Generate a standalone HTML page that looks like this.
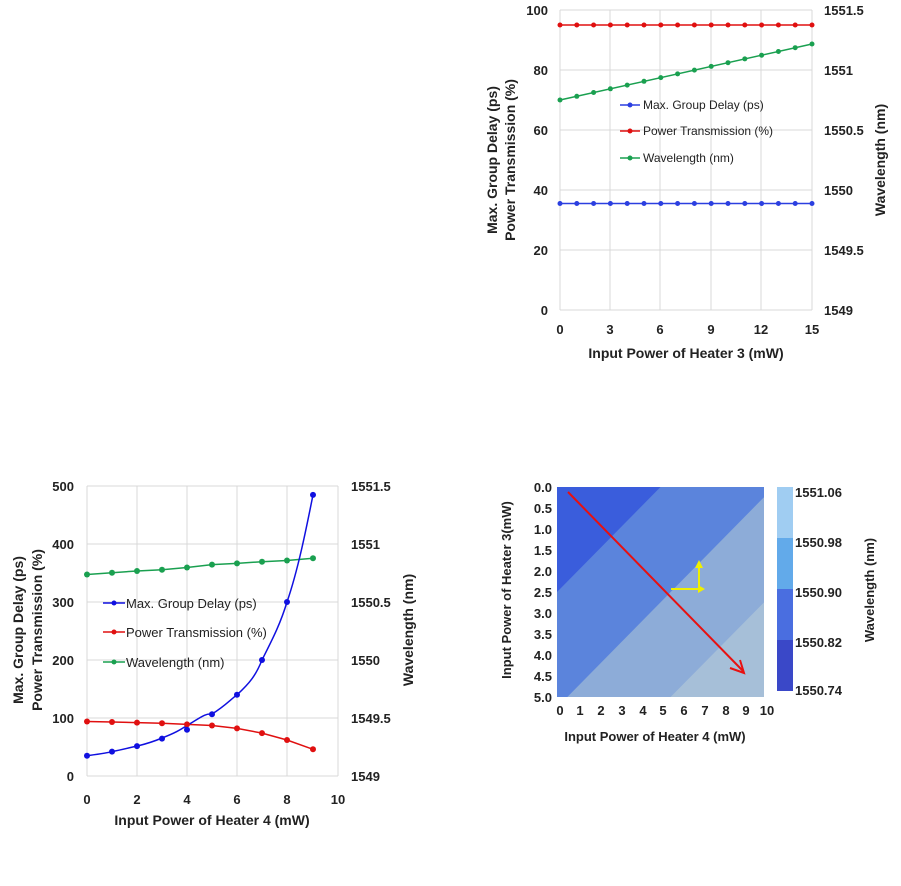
<!DOCTYPE html>
<html><head><meta charset="utf-8"><style>
html,body{margin:0;padding:0;background:#fff;overflow:hidden;width:901px;height:886px;}
svg{display:block;}
svg text{font-family:"Liberation Sans",Arial,sans-serif;font-weight:bold;fill:#222;}
</style></head><body>
<svg width="901" height="886" viewBox="0 0 901 886" xmlns="http://www.w3.org/2000/svg">
<!-- ===== Top right chart ===== -->
<g>
<g stroke="#d9d9d9" stroke-width="1">
<line x1="560" y1="10" x2="560" y2="310"/><line x1="610" y1="10" x2="610" y2="310"/><line x1="660" y1="10" x2="660" y2="310"/><line x1="711" y1="10" x2="711" y2="310"/><line x1="761" y1="10" x2="761" y2="310"/><line x1="812" y1="10" x2="812" y2="310"/>
<line x1="560" y1="10" x2="812" y2="10"/><line x1="560" y1="70" x2="812" y2="70"/><line x1="560" y1="130" x2="812" y2="130"/><line x1="560" y1="190" x2="812" y2="190"/><line x1="560" y1="250" x2="812" y2="250"/><line x1="560" y1="310" x2="812" y2="310"/>
</g>
<g font-size="13" text-anchor="end">
<text x="548" y="15">100</text><text x="548" y="75">80</text><text x="548" y="135">60</text><text x="548" y="195">40</text><text x="548" y="255">20</text><text x="548" y="315">0</text>
</g>
<g font-size="13" text-anchor="start">
<text x="824" y="15">1551.5</text><text x="824" y="75">1551</text><text x="824" y="135">1550.5</text><text x="824" y="195">1550</text><text x="824" y="255">1549.5</text><text x="824" y="315">1549</text>
</g>
<g font-size="13" text-anchor="middle">
<text x="560" y="334">0</text><text x="610" y="334">3</text><text x="660" y="334">6</text><text x="711" y="334">9</text><text x="761" y="334">12</text><text x="812" y="334">15</text>
</g>
<text x="686" y="358" font-size="14" text-anchor="middle">Input Power of Heater 3 (mW)</text>
<text transform="translate(497,160) rotate(-90)" font-size="14" text-anchor="middle">Max. Group Delay (ps)</text>
<text transform="translate(515,160) rotate(-90)" font-size="14" text-anchor="middle">Power Transmission (%)</text>
<text transform="translate(885,160) rotate(-90)" font-size="14" text-anchor="middle">Wavelength (nm)</text>
<line x1="560" y1="203.5" x2="812" y2="203.5" stroke="#2b3fe0" stroke-width="1.5"/>
<line x1="560" y1="25" x2="812" y2="25" stroke="#e01010" stroke-width="1.5"/>
<line x1="560" y1="100" x2="812" y2="44" stroke="#1aa050" stroke-width="1.5"/>
<g fill="#2b3fe0">
<circle cx="560" cy="203.5" r="2.5"/><circle cx="576.8" cy="203.5" r="2.5"/><circle cx="593.6" cy="203.5" r="2.5"/><circle cx="610.4" cy="203.5" r="2.5"/><circle cx="627.2" cy="203.5" r="2.5"/><circle cx="644" cy="203.5" r="2.5"/><circle cx="660.8" cy="203.5" r="2.5"/><circle cx="677.6" cy="203.5" r="2.5"/><circle cx="694.4" cy="203.5" r="2.5"/><circle cx="711.2" cy="203.5" r="2.5"/><circle cx="728" cy="203.5" r="2.5"/><circle cx="744.8" cy="203.5" r="2.5"/><circle cx="761.6" cy="203.5" r="2.5"/><circle cx="778.4" cy="203.5" r="2.5"/><circle cx="795.2" cy="203.5" r="2.5"/><circle cx="812" cy="203.5" r="2.5"/>
</g>
<g fill="#e01010">
<circle cx="560" cy="25" r="2.5"/><circle cx="576.8" cy="25" r="2.5"/><circle cx="593.6" cy="25" r="2.5"/><circle cx="610.4" cy="25" r="2.5"/><circle cx="627.2" cy="25" r="2.5"/><circle cx="644" cy="25" r="2.5"/><circle cx="660.8" cy="25" r="2.5"/><circle cx="677.6" cy="25" r="2.5"/><circle cx="694.4" cy="25" r="2.5"/><circle cx="711.2" cy="25" r="2.5"/><circle cx="728" cy="25" r="2.5"/><circle cx="744.8" cy="25" r="2.5"/><circle cx="761.6" cy="25" r="2.5"/><circle cx="778.4" cy="25" r="2.5"/><circle cx="795.2" cy="25" r="2.5"/><circle cx="812" cy="25" r="2.5"/>
</g>
<g fill="#1aa050">
<circle cx="560" cy="100" r="2.5"/><circle cx="576.8" cy="96.3" r="2.5"/><circle cx="593.6" cy="92.5" r="2.5"/><circle cx="610.4" cy="88.8" r="2.5"/><circle cx="627.2" cy="85.1" r="2.5"/><circle cx="644" cy="81.3" r="2.5"/><circle cx="660.8" cy="77.6" r="2.5"/><circle cx="677.6" cy="73.9" r="2.5"/><circle cx="694.4" cy="70.1" r="2.5"/><circle cx="711.2" cy="66.4" r="2.5"/><circle cx="728" cy="62.7" r="2.5"/><circle cx="744.8" cy="58.9" r="2.5"/><circle cx="761.6" cy="55.2" r="2.5"/><circle cx="778.4" cy="51.5" r="2.5"/><circle cx="795.2" cy="47.7" r="2.5"/><circle cx="812" cy="44" r="2.5"/>
</g>
<g font-size="12">
<line x1="620" y1="105" x2="640" y2="105" stroke="#2b3fe0" stroke-width="1.5"/><circle cx="630" cy="105" r="2.5" fill="#2b3fe0"/><text x="643" y="109" style="font-weight:normal">Max. Group Delay (ps)</text>
<line x1="620" y1="131" x2="640" y2="131" stroke="#e01010" stroke-width="1.5"/><circle cx="630" cy="131" r="2.5" fill="#e01010"/><text x="643" y="135" style="font-weight:normal">Power Transmission (%)</text>
<line x1="620" y1="158" x2="640" y2="158" stroke="#1aa050" stroke-width="1.5"/><circle cx="630" cy="158" r="2.5" fill="#1aa050"/><text x="643" y="162" style="font-weight:normal">Wavelength (nm)</text>
</g>
</g>
<!-- ===== Bottom left chart ===== -->
<g>
<g stroke="#d9d9d9" stroke-width="1">
<line x1="87" y1="486" x2="87" y2="776"/><line x1="137" y1="486" x2="137" y2="776"/><line x1="187" y1="486" x2="187" y2="776"/><line x1="237" y1="486" x2="237" y2="776"/><line x1="287" y1="486" x2="287" y2="776"/><line x1="338" y1="486" x2="338" y2="776"/>
<line x1="87" y1="486" x2="338" y2="486"/><line x1="87" y1="544" x2="338" y2="544"/><line x1="87" y1="602" x2="338" y2="602"/><line x1="87" y1="660" x2="338" y2="660"/><line x1="87" y1="718" x2="338" y2="718"/><line x1="87" y1="776" x2="338" y2="776"/>
</g>
<g font-size="13" text-anchor="end">
<text x="74" y="491">500</text><text x="74" y="549">400</text><text x="74" y="607">300</text><text x="74" y="665">200</text><text x="74" y="723">100</text><text x="74" y="781">0</text>
</g>
<g font-size="13" text-anchor="start">
<text x="351" y="491">1551.5</text><text x="351" y="549">1551</text><text x="351" y="607">1550.5</text><text x="351" y="665">1550</text><text x="351" y="723">1549.5</text><text x="351" y="781">1549</text>
</g>
<g font-size="13" text-anchor="middle">
<text x="87" y="804">0</text><text x="137" y="804">2</text><text x="187" y="804">4</text><text x="237" y="804">6</text><text x="287" y="804">8</text><text x="338" y="804">10</text>
</g>
<text x="212" y="825" font-size="14" text-anchor="middle">Input Power of Heater 4 (mW)</text>
<text transform="translate(23,630) rotate(-90)" font-size="14" text-anchor="middle">Max. Group Delay (ps)</text>
<text transform="translate(42,630) rotate(-90)" font-size="14" text-anchor="middle">Power Transmission (%)</text>
<text transform="translate(413,630) rotate(-90)" font-size="14" text-anchor="middle">Wavelength (nm)</text>
<polyline fill="none" stroke="#1aa050" stroke-width="1.5" points="87,574.5 112,572.7 137,571 162,569.8 187,567.5 212,564.6 237,563.4 262,561.7 287,560.5 313,558.2"/>
<polyline fill="none" stroke="#e01010" stroke-width="1.5" points="87,721.5 112,722 137,722.6 162,723.2 187,724.4 212,725.5 237,728.4 262,733.1 287,740 313,749.3"/>
<path fill="none" stroke="#1010e0" stroke-width="1.5" d="M87,755.7 C100,754 108,753 112,751.6 C125,749 132,747 137,746.1 C150,743 155,741 162,738 C175,733 180,730 187,725.5 C200,718 205,713 212,714.2 L212,714 C225,706 230,700 237,694.8 C250,683 256,675 262,660 C272,640 280,625 287,602 C298,570 306,530 313,494.9"/>
<g fill="#1aa050"><circle cx="87" cy="574.5" r="3"/><circle cx="112" cy="572.7" r="3"/><circle cx="137" cy="571" r="3"/><circle cx="162" cy="569.8" r="3"/><circle cx="187" cy="567.5" r="3"/><circle cx="212" cy="564.6" r="3"/><circle cx="237" cy="563.4" r="3"/><circle cx="262" cy="561.7" r="3"/><circle cx="287" cy="560.5" r="3"/><circle cx="313" cy="558.2" r="3"/></g>
<g fill="#e01010"><circle cx="87" cy="721.5" r="3"/><circle cx="112" cy="722" r="3"/><circle cx="137" cy="722.6" r="3"/><circle cx="162" cy="723.2" r="3"/><circle cx="187" cy="724.4" r="3"/><circle cx="212" cy="725.5" r="3"/><circle cx="237" cy="728.4" r="3"/><circle cx="262" cy="733.1" r="3"/><circle cx="287" cy="740" r="3"/><circle cx="313" cy="749.3" r="3"/></g>
<g fill="#1010e0"><circle cx="87" cy="755.7" r="3"/><circle cx="112" cy="751.6" r="3"/><circle cx="137" cy="746.1" r="3"/><circle cx="162" cy="738.6" r="3"/><circle cx="187" cy="729.8" r="3"/><circle cx="212" cy="714.2" r="3"/><circle cx="237" cy="694.8" r="3"/><circle cx="262" cy="660" r="3"/><circle cx="287" cy="602" r="3"/><circle cx="313" cy="494.9" r="3"/></g>
<g font-size="13">
<line x1="103" y1="603" x2="125" y2="603" stroke="#1010e0" stroke-width="1.5"/><circle cx="114" cy="603" r="2.5" fill="#1010e0"/><text x="126" y="608" style="font-weight:normal">Max. Group Delay (ps)</text>
<line x1="103" y1="632" x2="125" y2="632" stroke="#e01010" stroke-width="1.5"/><circle cx="114" cy="632" r="2.5" fill="#e01010"/><text x="126" y="637" style="font-weight:normal">Power Transmission (%)</text>
<line x1="103" y1="662" x2="125" y2="662" stroke="#1aa050" stroke-width="1.5"/><circle cx="114" cy="662" r="2.5" fill="#1aa050"/><text x="126" y="667" style="font-weight:normal">Wavelength (nm)</text>
</g>
</g>
<!-- ===== Heatmap ===== -->
<g>
<defs><clipPath id="hm"><rect x="557" y="487" width="207" height="210"/></clipPath></defs>
<g clip-path="url(#hm)">
<rect x="557" y="487" width="207" height="210" fill="#8dacd8"/>
<polygon fill="#a6bfd8" points="878,487 557,812 1000,1000 1000,487"/>
<polygon fill="#5b84dc" points="557,487 774,487 557,707.5"/>
<polygon fill="#3a5ddc" points="557,487 660.5,487 557,592"/>
</g>
<rect x="777" y="487" width="16" height="51" fill="#a0cdf2"/>
<rect x="777" y="538" width="16" height="51" fill="#62aaea"/>
<rect x="777" y="589" width="16" height="51" fill="#4a6ee0"/>
<rect x="777" y="640" width="16" height="51" fill="#3a48c8"/>
<g font-size="13"><text x="795" y="497">1551.06</text><text x="795" y="547">1550.98</text><text x="795" y="597">1550.90</text><text x="795" y="647">1550.82</text><text x="795" y="695">1550.74</text></g>
<text transform="translate(874,590) rotate(-90)" font-size="13" text-anchor="middle">Wavelength (nm)</text>
<g font-size="13" text-anchor="end">
<text x="552" y="492">0.0</text><text x="552" y="513">0.5</text><text x="552" y="534">1.0</text><text x="552" y="555">1.5</text><text x="552" y="576">2.0</text><text x="552" y="597">2.5</text><text x="552" y="618">3.0</text><text x="552" y="639">3.5</text><text x="552" y="660">4.0</text><text x="552" y="681">4.5</text><text x="552" y="702">5.0</text>
</g>
<g font-size="13" text-anchor="middle">
<text x="560" y="715">0</text><text x="580" y="715">1</text><text x="601" y="715">2</text><text x="622" y="715">3</text><text x="643" y="715">4</text><text x="663" y="715">5</text><text x="684" y="715">6</text><text x="705" y="715">7</text><text x="726" y="715">8</text><text x="746" y="715">9</text><text x="767" y="715">10</text>
</g>
<text x="655" y="741" font-size="13" text-anchor="middle">Input Power of Heater 4 (mW)</text>
<text transform="translate(511,590) rotate(-90)" font-size="13" text-anchor="middle">Input Power of Heater 3(mW)</text>
<line x1="568" y1="492" x2="743" y2="671" stroke="#e81010" stroke-width="2"/>
<polyline points="730,668 744,673 740,660" fill="none" stroke="#e81010" stroke-width="2"/>
<line x1="671" y1="589" x2="698" y2="589" stroke="#f0f000" stroke-width="2"/>
<polygon points="698,585 705,589 698,593" fill="#f0f000"/>
<line x1="699" y1="589" x2="699" y2="567" stroke="#f0f000" stroke-width="2"/>
<polygon points="695,568 699,560 703,568" fill="#f0f000"/>
</g>
</svg>
</body></html>
